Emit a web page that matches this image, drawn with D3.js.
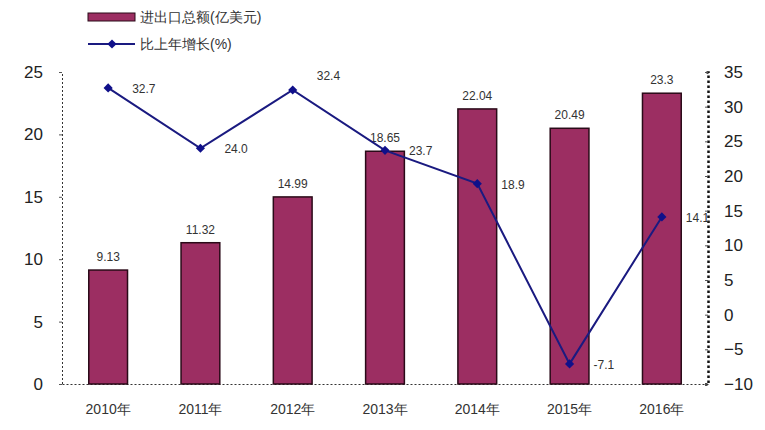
<!DOCTYPE html>
<html>
<head>
<meta charset="utf-8">
<script src="https://cdn.jsdelivr.net/npm/d3@7"></script>
<style>
  body { margin: 0; background: #fff; }
  svg { font-family: "Liberation Sans", Arial, sans-serif; }
</style>
</head>
<body>
<div id="chart"></div>
<script>
// Data
const years = ["2010年", "2011年", "2012年", "2013年", "2014年", "2015年", "2016年"];
const totals = [9.13, 11.32, 14.99, 18.65, 22.04, 20.49, 23.3];
const growth = [32.7, 24.0, 32.4, 23.7, 18.9, -7.1, 14.1];
const leftTicks = [0, 5, 10, 15, 20, 25];
const rightTicks = [-10, -5, 0, 5, 10, 15, 20, 25, 30, 35];
const barName = "进出口总额(亿美元)";
const lineName = "比上年增长(%)";

const width = 765;
const height = 430;
const margin = { top: 72, right: 57, bottom: 46, left: 62 };

const svg = d3.select("#chart")
  .append("svg")
  .attr("width", width)
  .attr("height", height);

// Scales
const x = d3.scaleBand()
  .domain(years)
  .range([margin.left, width - margin.right])
  .paddingInner(0.58)
  .paddingOuter(0.29);

const yLeft = d3.scaleLinear()
  .domain([0, 25])
  .range([height - margin.bottom, margin.top]);

const yRight = d3.scaleLinear()
  .domain([-10, 35])
  .range([height - margin.bottom, margin.top]);

// Left axis
const gLeft = svg.append("g")
  .attr("transform", `translate(${margin.left},0)`)
  .call(d3.axisLeft(yLeft).tickValues(leftTicks).tickSize(3).tickPadding(16));
gLeft.select(".domain").attr("stroke", "#333").attr("stroke-dasharray", "2,2");
gLeft.selectAll(".tick line").attr("stroke", "#555");
gLeft.selectAll("text").attr("font-size", 17).attr("fill", "#222");

// Right axis (ticks inward)
const gRight = svg.append("g")
  .attr("transform", `translate(${width - margin.right},0)`)
  .call(d3.axisRight(yRight).tickValues(rightTicks).tickSize(-3).tickPadding(16));
gRight.select(".domain").attr("stroke", "#111").attr("stroke-width", 2.5).attr("stroke-dasharray", "2.5,2.5");
gRight.selectAll(".tick line").attr("stroke", "#555");
gRight.selectAll("text").attr("font-size", 17).attr("fill", "#222");

// Bottom axis
const gBottom = svg.append("g")
  .attr("transform", `translate(0,${height - margin.bottom})`)
  .call(d3.axisBottom(x).tickSize(0).tickPadding(20));
gBottom.select(".domain").attr("stroke", "#333").attr("stroke-dasharray", "2,2");
gBottom.selectAll("text").attr("font-size", 14).attr("fill", "#333");

// Bars
svg.selectAll("rect.bar")
  .data(totals)
  .enter()
  .append("rect")
    .attr("class", "bar")
    .attr("x", (d, i) => x(years[i]))
    .attr("y", d => yLeft(d))
    .attr("width", x.bandwidth())
    .attr("height", d => yLeft(0) - yLeft(d))
    .attr("fill", "#9c2e62")
    .attr("stroke", "#2a0a18")
    .attr("stroke-width", 1.5);

// Bar labels
svg.selectAll("text.barlabel")
  .data(totals)
  .enter()
  .append("text")
    .attr("class", "barlabel")
    .attr("x", (d, i) => x(years[i]) + x.bandwidth() / 2)
    .attr("y", d => yLeft(d) - 9)
    .attr("text-anchor", "middle")
    .attr("font-size", 12)
    .attr("fill", "#333")
    .text(d => d);

// Growth line
const cx = i => x(years[i]) + x.bandwidth() / 2;
const line = d3.line()
  .x((d, i) => cx(i))
  .y(d => yRight(d));

svg.append("path")
  .datum(growth)
  .attr("fill", "none")
  .attr("stroke", "#1a1a80")
  .attr("stroke-width", 2)
  .attr("d", line);

// Diamond markers (rotated squares)
svg.selectAll("path.marker")
  .data(growth)
  .enter()
  .append("path")
    .attr("class", "marker")
    .attr("d", d3.symbol(d3.symbolSquare, 42))
    .attr("transform", (d, i) => `translate(${cx(i)},${yRight(d)}) rotate(45)`)
    .attr("fill", "#10108a");

// Line labels
svg.selectAll("text.linelabel")
  .data(growth)
  .enter()
  .append("text")
    .attr("class", "linelabel")
    .attr("x", (d, i) => cx(i) + 24)
    .attr("y", (d, i) => yRight(d) + (i === 2 ? -10 : 5))
    .attr("text-anchor", "start")
    .attr("font-size", 12)
    .attr("fill", "#333")
    .text(d => d.toFixed(1));

// Legend
const legend = svg.append("g").attr("transform", "translate(88,0)");
legend.append("rect")
  .attr("x", 0)
  .attr("y", 13)
  .attr("width", 47)
  .attr("height", 8)
  .attr("fill", "#9c2e62")
  .attr("stroke", "#2a0a18");
legend.append("text")
  .attr("x", 52)
  .attr("y", 22)
  .attr("font-size", 14)
  .attr("fill", "#333")
  .text(barName);
legend.append("line")
  .attr("x1", 0)
  .attr("x2", 47)
  .attr("y1", 44)
  .attr("y2", 44)
  .attr("stroke", "#1a1a80")
  .attr("stroke-width", 2);
legend.append("path")
  .attr("d", d3.symbol(d3.symbolSquare, 42))
  .attr("transform", "translate(24,44) rotate(45)")
  .attr("fill", "#10108a");
legend.append("text")
  .attr("x", 52)
  .attr("y", 49)
  .attr("font-size", 14)
  .attr("fill", "#333")
  .text(lineName);
</script>
</body>
</html>
